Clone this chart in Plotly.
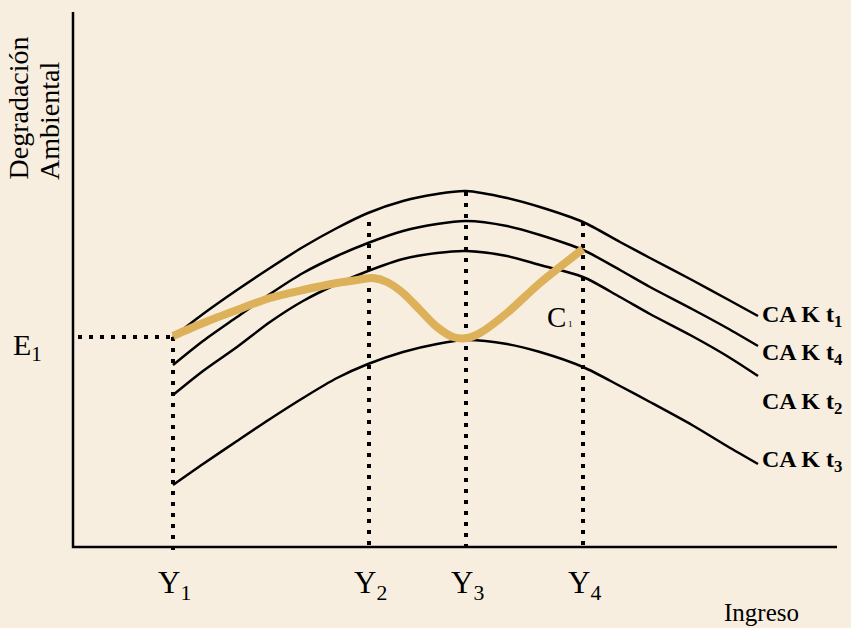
import plotly.graph_objects as go

# Pixel-like coordinate frame (y grows downward)
income = [173, 203, 237, 270, 303, 337, 368, 403, 437, 466, 507, 540, 583, 620, 650, 692, 727, 758]

cak_t1 = [337, 314, 290, 268, 247, 228, 213, 201, 194, 191, 198, 207, 222, 242, 258, 280, 299, 316]
cak_t4 = [365, 341, 317, 294, 273, 256, 243, 231, 224, 221, 226, 235, 250, 270, 287, 309, 328, 346]
cak_t2 = [395, 371, 347, 322, 301, 284, 271, 259, 253, 251, 256, 265, 277, 297, 314, 336, 356, 376]
cak_t3 = [485, 464, 441, 419, 398, 378, 364, 352, 344, 340, 344, 352, 367, 386, 402, 425, 446, 464]

c1_x = [173, 203, 237, 270, 303, 337, 357, 373, 387, 403, 420, 437, 453, 467, 480, 507, 540, 583]
c1_y = [336, 323, 310, 298, 290, 283, 280, 278, 282, 293, 310, 327, 337, 338, 333, 313, 283, 249]

# income levels Y1..Y4 and where their guides meet the curves
y_marks = [173, 369, 466, 583]
y_mark_top = [337, 222, 192, 222]
y_labels = ["Y<sub>1</sub>", "Y<sub>2</sub>", "Y<sub>3</sub>", "Y<sub>4</sub>"]

e1_level = 337

curve_labels = ["CA K t<sub>1</sub>", "CA K t<sub>4</sub>", "CA K t<sub>2</sub>", "CA K t<sub>3</sub>"]
curve_label_y = [316, 354, 403, 461]

axis_x = [73, 73, 837]
axis_y = [12, 547, 547]

BG = '#F8EEDF'
GOLD = '#DDB05A'
SERIF = 'Liberation Serif, Times New Roman, serif'

fig = go.Figure()

# axes
fig.add_trace(go.Scatter(x=axis_x, y=axis_y, mode='lines',
                         line={'color': 'black', 'width': 2.5}))

# dotted guides
dots = {'color': 'black', 'width': 4, 'dash': '4px,7px'}
for xm, yt in zip(y_marks, y_mark_top):
    fig.add_trace(go.Scatter(x=[xm, xm], y=[yt, axis_y[1] + 3], mode='lines', line=dots))
fig.add_trace(go.Scatter(x=[axis_x[0] + 5, y_marks[0]], y=[e1_level, e1_level], mode='lines', line=dots))

# Kuznets curves
for ys in [cak_t1, cak_t4, cak_t2, cak_t3]:
    fig.add_trace(go.Scatter(x=income, y=ys, mode='lines',
                             line={'color': 'black', 'width': 2.5, 'shape': 'spline', 'smoothing': 0.8}))

# C1 path
fig.add_trace(go.Scatter(x=c1_x, y=c1_y, mode='lines',
                         line={'color': GOLD, 'width': 8, 'shape': 'spline', 'smoothing': 0.8}))

annotations = []
for xm, lab in zip(y_marks, y_labels):
    annotations.append(dict(x=xm - 17, y=585, text=lab, showarrow=False, xanchor='left', yanchor='middle',
                            font={'family': SERIF, 'size': 31, 'color': 'black'}))
for lab, ly in zip(curve_labels, curve_label_y):
    annotations.append(dict(x=760, y=ly, text="<b>%s</b>" % lab, showarrow=False, xanchor='left', yanchor='middle',
                            font={'family': SERIF, 'size': 24, 'color': 'black'}))

annotations += [
    dict(x=11, y=347, text="E<sub>1</sub>", showarrow=False, xanchor='left', yanchor='middle',
         font={'family': SERIF, 'size': 30, 'color': 'black'}),
    dict(x=545, y=317, text="C", showarrow=False, xanchor='left', yanchor='middle',
         font={'family': SERIF, 'size': 29, 'color': 'black'}),
    dict(x=566, y=324, text="1", showarrow=False, xanchor='left', yanchor='middle',
         font={'family': SERIF, 'size': 9, 'color': 'black'}),
    dict(x=722, y=612, text="Ingreso", showarrow=False, xanchor='left', yanchor='middle',
         font={'family': SERIF, 'size': 25, 'color': 'black'}),
    dict(x=18, y=182, text="Degradación", showarrow=False, textangle=-90, xanchor='center', yanchor='bottom',
         font={'family': SERIF, 'size': 28, 'color': 'black'}),
    dict(x=49, y=182, text="Ambiental", showarrow=False, textangle=-90, xanchor='center', yanchor='bottom',
         font={'family': SERIF, 'size': 28, 'color': 'black'}),
]

fig.update_layout(width=851, height=628, margin={'l': 0, 'r': 0, 't': 0, 'b': 0},
                  plot_bgcolor=BG, paper_bgcolor=BG, showlegend=False,
                  xaxis={'range': [0, 851], 'visible': False, 'fixedrange': True},
                  yaxis={'range': [628, 0], 'visible': False, 'fixedrange': True},
                  annotations=annotations)

fig.write_html("out.html", config={'displayModeBar': False},
               post_script="document.body.style.margin='0';document.body.style.background='%s';" % BG)
